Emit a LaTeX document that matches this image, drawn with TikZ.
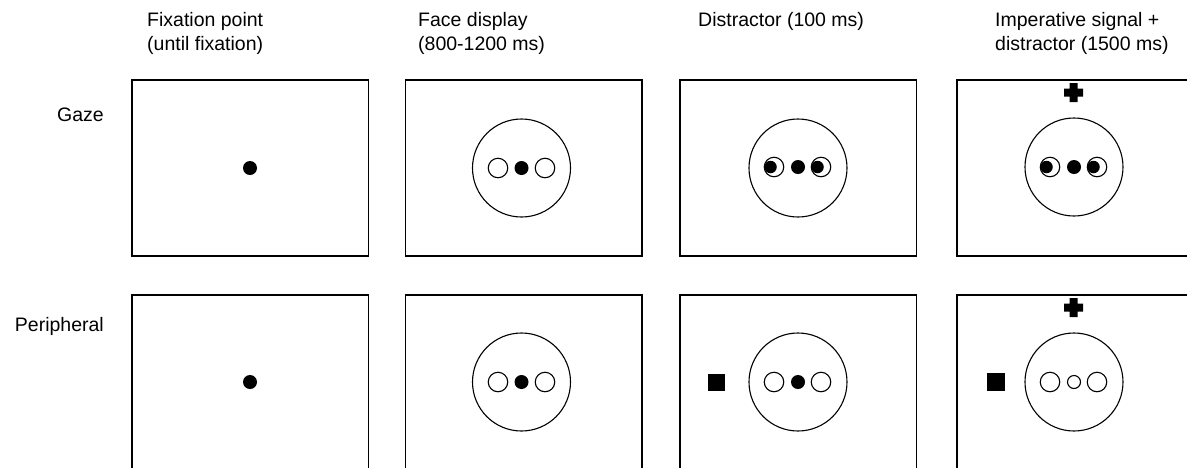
\documentclass[tikz,border=0pt]{standalone}
\usepackage{fontspec}
\setmainfont{Liberation Sans}
\begin{document}
\begin{tikzpicture}[x=1pt,y=-1pt,
  panel/.style={draw,line width=1.5pt,minimum width=236.5pt,minimum height=176pt,inner sep=0pt,outer sep=0pt},
  face/.style={draw,circle,line width=1.1pt,minimum size=98pt,inner sep=0pt},
  eye/.style={draw,circle,line width=1.1pt,minimum size=19.5pt,inner sep=0pt},
  smalleye/.style={draw,circle,line width=1.1pt,minimum size=13pt,inner sep=0pt},
  dot/.style={fill,circle,minimum size=14pt,inner sep=0pt},
  pupil/.style={fill,circle,minimum size=12.5pt,inner sep=0pt},
  sq/.style={fill,rectangle,minimum size=18pt,inner sep=0pt},
  lbl/.style={font=\fontsize{19.5}{24}\selectfont,inner sep=0pt,align=left}]
\useasboundingbox (0,0) rectangle (1187,467);
\begin{scope}
\clip (0,0) rectangle (1187,467);
% row 1
\node[panel] (g1) at (250,168) {};
\node[panel] (g2) at (523.5,168) {};
\node[panel] (g3) at (798,168) {};
\node[panel] (g4) at (1075,168) {};
% row 2
\node[panel] (p1) at (250,383) {};
\node[panel] (p2) at (523.5,383) {};
\node[panel] (p3) at (798,383) {};
\node[panel] (p4) at (1075,383) {};
\end{scope}
% gaze row contents
\node[dot] (gd1) at (250,168) {};
\node[face] (gf2) at (521.5,168) {};
\node[eye] (ge2l) at (498,168) {};
\node[eye] (ge2r) at (545,168) {};
\node[dot] (gd2) at (521.5,168) {};
\node[face] (gf3) at (798,168) {};
\node[eye] (ge3l) at (774,167) {};
\node[pupil] (gp3l) at (770.5,167) {};
\node[eye] (ge3r) at (821,167) {};
\node[pupil] (gp3r) at (817.5,167) {};
\node[dot] (gd3) at (798,167) {};
\node[face] (gf4) at (1074,167) {};
\node[eye] (ge4l) at (1050,167) {};
\node[pupil] (gp4l) at (1046.5,167) {};
\node[eye] (ge4r) at (1097,167) {};
\node[pupil] (gp4r) at (1093.5,167) {};
\node[dot] (gd4) at (1074,167) {};
\path[fill] (1069.5,83) rectangle (1077.5,102) (1064,88.5) rectangle (1083,96.5);
\coordinate (gplus) at (1073.5,92.5);
% peripheral row contents
\node[dot] (pd1) at (250,382) {};
\node[face] (pf2) at (521.5,382) {};
\node[eye] (pe2l) at (498,382) {};
\node[eye] (pe2r) at (545,382) {};
\node[dot] (pd2) at (521.5,382) {};
\node[face] (pf3) at (798,382) {};
\node[eye] (pe3l) at (774,382) {};
\node[eye] (pe3r) at (821,382) {};
\node[dot] (pd3) at (798,382) {};
\node[sq,minimum size=17pt] (ps3) at (716,382) {};
\node[face] (pf4) at (1074,382) {};
\node[eye] (pe4l) at (1050,382) {};
\node[eye] (pe4r) at (1097,382) {};
\node[smalleye] (pd4) at (1074,382) {};
\node[sq] (ps4) at (996,382) {};
\path[fill] (1069.5,298) rectangle (1077.5,317) (1064,303.5) rectangle (1083,311.5);
\coordinate (pplus) at (1073.5,307.5);
% labels
\node[lbl,anchor=east] (lg) at (104,115) {Gaze};
\node[lbl,anchor=east] (lp) at (104,326) {Peripheral};
\node[lbl,anchor=north west] (t1) at (147,12.5) {Fixation point\\(until fixation)};
\node[lbl,anchor=north west] (t2) at (418,12.5) {Face display\\(800-1200 ms)};
\node[lbl,anchor=north west] (t3) at (698,12.5) {Distractor (100 ms)};
\node[lbl,anchor=north west] (t4) at (995,12.5) {Imperative signal +\\distractor (1500 ms)};
\end{tikzpicture}
\end{document}
